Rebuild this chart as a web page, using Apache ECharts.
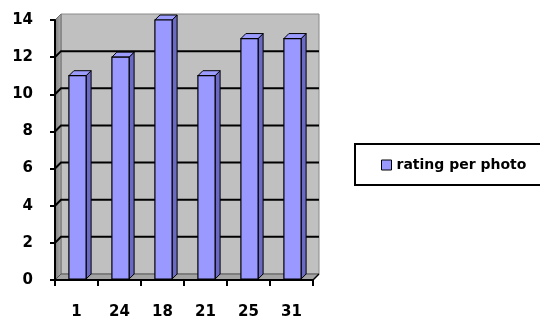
<!DOCTYPE html>
<html>
<head>
<meta charset="utf-8">
<script src="https://cdn.jsdelivr.net/npm/echarts@6/dist/echarts.min.js"></script>
<style>
  html, body { margin: 0; padding: 0; background: #ffffff; }
  #chart { width: 540px; height: 325px; }
</style>
</head>
<body>
<div id="chart"></div>
<script>
// Photo ids along the x axis and the rating each one received
const categories = ['1', '24', '18', '21', '25', '31'];
const ratings = [11, 12, 14, 11, 13, 13];
const seriesName = 'rating per photo';
// Value axis range and the gridline steps drawn on the back wall
const yMin = 0;
const yMax = 14;
const yStep = 2;
const gridValues = [2, 4, 6, 8, 10, 12];

const FONT = '"DejaVu Sans", sans-serif';
const WALL_DEPTH = 6;   // pixel offset of back wall (3D look)
const BAR_DEPTH = 5;    // pixel depth of each bar

const chart = echarts.init(document.getElementById('chart'), null, { renderer: 'canvas' });

// Walls, floor and gridlines of the 3D frame
function renderWalls(params, api) {
  const cs = params.coordSys;
  const D = WALL_DEPTH;
  const x0 = cs.x, x1 = cs.x + cs.width;
  const yT = cs.y, yB = cs.y + cs.height;
  const children = [];
  children.push({
    type: 'rect',
    shape: { x: x0 + D, y: yT - D, width: x1 - x0, height: yB - yT },
    style: { fill: '#c0c0c0', stroke: '#8a8a8a', lineWidth: 1 }
  });
  children.push({
    type: 'polygon',
    shape: { points: [[x0, yT], [x0 + D, yT - D], [x0 + D, yB - D], [x0, yB]] },
    style: {
      fill: new echarts.graphic.LinearGradient(0, 0, 1, 0, [
        { offset: 0, color: '#7a7a7a' }, { offset: 1, color: '#b0b0b0' }
      ]),
      stroke: '#707070', lineWidth: 1
    }
  });
  children.push({
    type: 'polygon',
    shape: { points: [[x0, yB], [x1, yB], [x1 + D, yB - D], [x0 + D, yB - D]] },
    style: { fill: '#a4a4a4', stroke: '#555555', lineWidth: 1 }
  });
  gridValues.forEach(function (v) {
    const y = api.coord([0, v])[1];
    children.push({
      type: 'polyline',
      shape: { points: [[x0, y], [x0 + D, y - D], [x1 + D, y - D]] },
      style: { stroke: '#000000', lineWidth: 2, fill: null }
    });
  });
  children.push({
    type: 'line',
    shape: { x1: x1, y1: yB, x2: x1 + D, y2: yB - D },
    style: { stroke: '#000000', lineWidth: 1.5 }
  });
  return { type: 'group', children: children, silent: true };
}

// Bars with a front face, a shaded side and a top
function renderBar(params, api) {
  const idx = api.value(0);
  const val = api.value(1);
  const top = api.coord([idx, val]);
  const base = api.coord([idx, 0]);
  const hw = api.size([1, 0])[0] * 0.2;
  const D = BAR_DEPTH;
  const cx = top[0] + 1;
  const l = cx - hw, r = cx + hw, t = top[1], b = base[1] - 1;
  return {
    type: 'group',
    children: [
      {
        type: 'polygon',
        shape: { points: [[r, t], [r + D, t - D], [r + D, b - D], [r, b]] },
        style: { fill: '#6a6ac4', stroke: '#000000', lineWidth: 1 }
      },
      {
        type: 'polygon',
        shape: { points: [[l, t], [l + D, t - D], [r + D, t - D], [r, t]] },
        style: { fill: '#9c9cff', stroke: '#000000', lineWidth: 1 }
      },
      {
        type: 'rect',
        shape: { x: l, y: t, width: r - l, height: b - t },
        style: { fill: '#9999ff', stroke: '#000000', lineWidth: 1.2 }
      }
    ]
  };
}

const option = {
  backgroundColor: '#ffffff',
  animation: false,
  grid: { left: 55, right: 227, top: 20, bottom: 45 },
  legend: {
    data: [{
      name: seriesName,
      icon: 'rect',
      itemStyle: { color: '#9999ff', borderColor: '#000000', borderWidth: 1 }
    }],
    left: 355,
    top: 144,
    orient: 'vertical',
    padding: [14, 40, 13, 26],
    itemWidth: 10,
    itemHeight: 10,
    backgroundColor: '#ffffff',
    borderColor: '#000000',
    borderWidth: 2,
    borderRadius: 0,
    selectedMode: false,
    textStyle: { fontFamily: FONT, fontWeight: 'bold', fontSize: 14, color: '#000000' }
  },
  xAxis: {
    type: 'category',
    data: categories,
    boundaryGap: true,
    axisLine: { show: true, lineStyle: { color: '#000000', width: 2 } },
    axisTick: { show: true, length: 6, lineStyle: { color: '#000000', width: 2 } },
    axisLabel: { margin: 25, fontFamily: FONT, fontWeight: 'bold', fontSize: 15, color: '#000000' },
    splitLine: { show: false },
    z: 5
  },
  yAxis: {
    type: 'value',
    min: yMin,
    max: yMax,
    interval: yStep,
    axisLine: { show: true, lineStyle: { color: '#000000', width: 2 } },
    axisTick: { show: true, length: 5, lineStyle: { color: '#000000', width: 2 } },
    axisLabel: { margin: 22, fontFamily: FONT, fontWeight: 'bold', fontSize: 15, color: '#000000' },
    splitLine: { show: false },
    z: 5
  },
  series: [
    {
      name: 'frame',
      type: 'custom',
      renderItem: renderWalls,
      data: [[0, 0]],
      z: 1,
      silent: true
    },
    {
      name: seriesName,
      type: 'custom',
      renderItem: renderBar,
      itemStyle: { color: '#9999ff' },
      encode: { x: 0, y: 1 },
      data: ratings.map(function (v, i) { return [i, v]; }),
      z: 3
    }
  ]
};

chart.setOption(option);
</script>
</body>
</html>
